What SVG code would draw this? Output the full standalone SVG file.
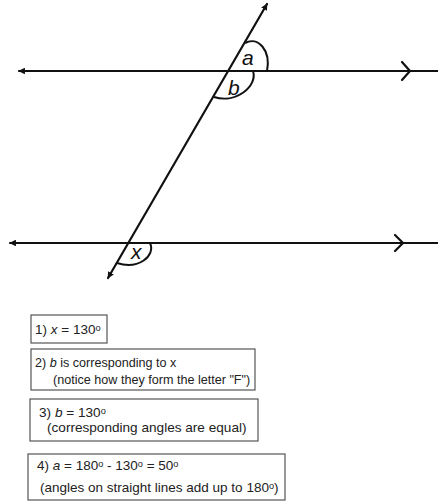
<svg xmlns="http://www.w3.org/2000/svg" width="438" height="502" viewBox="0 0 438 502">
<style>
.ln{stroke:#111;stroke-width:2.2;fill:none;stroke-linecap:round}
.arc{stroke:#111;stroke-width:2;fill:none}
.lbl{font-family:"Liberation Sans",Arial,sans-serif;font-size:21px;font-style:italic;fill:#111}
.box{fill:#fff;stroke:#555;stroke-width:1.2}
.t{font-family:"Liberation Sans",Arial,sans-serif;font-size:13.5px;fill:#222}
.s2{font-size:12.6px}
.s3{font-size:13.6px}
.s4{font-size:13.5px}
.i{font-style:italic}
.d{font-size:0.68em}
</style>
<defs>
<marker id="ah" viewBox="0 0 10 10" refX="9" refY="5" markerWidth="3" markerHeight="3" orient="auto-start-reverse" markerUnits="strokeWidth">
<path d="M0,0 L10,5 L0,10 z" fill="#111"/>
</marker>
</defs>
<rect width="438" height="502" fill="#fff"/>
<g id="connectors">
<line class="ln" x1="19" y1="71" x2="438" y2="71" marker-start="url(#ah)"/>
<polyline class="ln" points="402,62 410,71 402,80"/>
<line class="ln" x1="10" y1="243" x2="438" y2="243" marker-start="url(#ah)"/>
<polyline class="ln" points="395,235 403,243 395,251"/>
<line class="ln" x1="108" y1="278" x2="267" y2="4" marker-start="url(#ah)" marker-end="url(#ah)"/>
</g>
<g id="angle-a">
<path class="arc" d="M245,43 C258,36 271,50 267,71"/>
<text class="lbl" x="242" y="64.5">a</text>
</g>
<g id="angle-b">
<path class="arc" d="M253,71 C258,86 236,104 214,97"/>
<text class="lbl" x="228" y="95">b</text>
</g>
<g id="angle-x">
<path class="arc" d="M150,243 C156,256 138,270 117,263"/>
<text class="lbl" x="131" y="259">x</text>
</g>
<g id="step1">
<rect class="box" x="31" y="315" width="76" height="28"/>
<text class="t" x="35" y="334">1) <tspan class="i">x</tspan> = 130<tspan class="d" dy="-3">o</tspan></text>
</g>
<g id="step2">
<rect class="box" x="31" y="349" width="224" height="41"/>
<text class="t s2" x="35" y="366.5">2) <tspan class="i">b</tspan> is corresponding to x</text>
<text class="t s2" x="53" y="383.5">(notice how they form the letter "F")</text>
</g>
<g id="step3">
<rect class="box" x="30" y="399" width="228" height="42"/>
<text class="t s3" x="39" y="416.5">3) <tspan class="i">b</tspan> = 130<tspan class="d" dy="-3">o</tspan></text>
<text class="t s3" x="47" y="432">(corresponding angles are equal)</text>
</g>
<g id="step4">
<rect class="box" x="28" y="454" width="257" height="46"/>
<text class="t s4" x="37" y="469.5">4) <tspan class="i">a</tspan> = 180<tspan class="d" dy="-3">o</tspan><tspan dy="3"> - 130</tspan><tspan class="d" dy="-3">o</tspan><tspan dy="3"> = 50</tspan><tspan class="d" dy="-3">o</tspan></text>
<text class="t s4" x="40" y="491.5">(angles on straight lines add up to 180<tspan class="d" dy="-3">o</tspan><tspan dy="3">)</tspan></text>
</g>
</svg>
